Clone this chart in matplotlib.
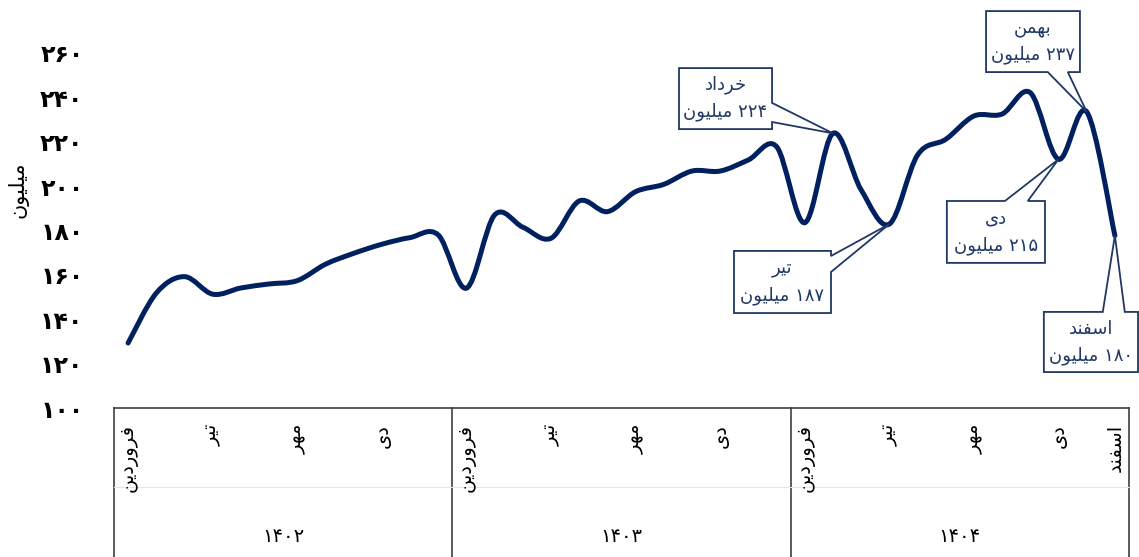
import re
import numpy as np
import matplotlib
matplotlib.use("Agg")
import matplotlib.pyplot as plt
from matplotlib.path import Path
from matplotlib.patches import PathPatch, Polygon

# monthly values (million), 1402 farvardin .. 1404 esfand
values = [129.3, 151.8, 159.2, 151.3, 154.1, 155.9, 157.4, 164.8, 169.7, 173.8, 176.8, 178.0,
          154.0, 187.0, 181.5, 176.5, 193.3, 188.5, 197.5, 200.8, 206.8, 206.8, 211.8, 217.8,
          183.5, 223.8, 198.3, 182.9, 214.0, 221.1, 231.6, 232.5, 242.1, 212.1, 233.5, 177.7]
years = ["۱۴۰۲", "۱۴۰۳", "۱۴۰۴"]
month_ticks = [0, 3, 6, 9, 12, 15, 18, 21, 24, 27, 30, 33, 35]
month_names = ["فروردین", "تیر", "مهر", "دی"] * 3 + ["اسفند"]
yticks = [100, 120, 140, 160, 180, 200, 220, 240, 260]

# callouts: point index, month, label value
call_idx = [25, 27, 33, 34, 35]
call_month = ["خرداد", "تیر", "دی", "بهمن", "اسفند"]
call_val = ["۲۲۴", "۱۸۷", "۲۱۵", "۲۳۷", "۱۸۰"]
# box (x0, x1, y0, y1) in data units, wedge side and the two wedge anchors
call_box = [(19.54, 22.84, 225.7, 253.2, "right", 228.9, 237.5),
            (21.49, 24.93, 142.8, 170.8, "right", 161.3, 168.5),
            (29.04, 32.52, 165.4, 193.3, "top", 31.10, 31.91),
            (30.43, 33.76, 251.4, 278.9, "bottom", 32.62, 33.33),
            (32.48, 35.82, 116.2, 143.3, "top", 34.57, 35.35)]

NAVY = "#002060"
TXT = "#1f3864"

# --- minimal persian shaping (matplotlib has no arabic shaping) ---
FORMS = {
    "ا": ("\uFE8D", "\uFE8E", None, None),
    "ب": ("\uFE8F", "\uFE90", "\uFE91", "\uFE92"),
    "ت": ("\uFE95", "\uFE96", "\uFE97", "\uFE98"),
    "خ": ("\uFEA5", "\uFEA6", "\uFEA7", "\uFEA8"),
    "د": ("\uFEA9", "\uFEAA", None, None),
    "ر": ("\uFEAD", "\uFEAE", None, None),
    "س": ("\uFEB1", "\uFEB2", "\uFEB3", "\uFEB4"),
    "ف": ("\uFED1", "\uFED2", "\uFED3", "\uFED4"),
    "ل": ("\uFEDD", "\uFEDE", "\uFEDF", "\uFEE0"),
    "م": ("\uFEE1", "\uFEE2", "\uFEE3", "\uFEE4"),
    "ن": ("\uFEE5", "\uFEE6", "\uFEE7", "\uFEE8"),
    "ه": ("\uFEE9", "\uFEEA", "\uFEEB", "\uFEEC"),
    "و": ("\uFEED", "\uFEEE", None, None),
    "ی": ("\uFEEF", "\uFEF0", "\uFEF3", "\uFEF4"),
}


def fa(s):
    out = []
    for k, c in enumerate(s):
        if c not in FORMS:
            out.append(c)
            continue
        prev = s[k - 1] if k > 0 else None
        nxt = s[k + 1] if k + 1 < len(s) else None
        jp = prev in FORMS and FORMS[prev][2] is not None
        jn = FORMS[c][2] is not None and nxt in FORMS
        iso, fin, ini, med = FORMS[c]
        out.append(med if jp and jn else fin if jp else ini if jn else iso)
    vis = "".join(out)[::-1]
    return re.sub(r"[\u06F0-\u06F90-9]+", lambda m: m.group(0)[::-1], vis)


def fa_num(n):
    return str(n).translate(str.maketrans("0123456789", "۰۱۲۳۴۵۶۷۸۹"))


plt.rcParams["font.family"] = ["DejaVu Sans"]

fig = plt.figure(figsize=(11.39, 5.57), dpi=100)
ax = fig.add_axes([114 / 1139, 1 - 408 / 557, 1015 / 1139, 355 / 557])

x = np.arange(len(values))
y = np.array(values)

# smoothed line (catmull-rom as bezier, like excel "smoothed line")
verts = [(x[0], y[0])]
codes = [Path.MOVETO]
for i in range(len(x) - 1):
    p0 = np.array([x[max(i - 1, 0)], y[max(i - 1, 0)]])
    p1 = np.array([x[i], y[i]])
    p2 = np.array([x[i + 1], y[i + 1]])
    p3 = np.array([x[min(i + 2, len(x) - 1)], y[min(i + 2, len(x) - 1)]])
    c1 = p1 + (p2 - p0) / 6
    c2 = p2 - (p3 - p1) / 6
    verts += [tuple(c1), tuple(c2), tuple(p2)]
    codes += [Path.CURVE4] * 3
ax.add_patch(PathPatch(Path(verts, codes), fill=False, edgecolor=NAVY, lw=3.6,
                       capstyle="round", joinstyle="round", zorder=3))

ax.set_xlim(-0.5, len(values) - 0.5)
ax.set_ylim(100, 260)
ax.set_yticks(yticks)
ax.set_yticklabels([fa_num(v) for v in yticks], fontsize=17, fontweight="bold")
ax.tick_params(axis="y", length=0, pad=22)
ax.set_xticks([])
for s in ["left", "right", "top"]:
    ax.spines[s].set_visible(False)
ax.spines["bottom"].set_color("#404040")
ax.spines["bottom"].set_linewidth(1.2)

tr = ax.get_xaxis_transform()
for b in [-0.5, 11.5, 23.5, 35.5]:
    ax.plot([b, b], [0, -0.5], color="#404040", lw=1.2, transform=tr, clip_on=False)
ax.plot([-0.5, 35.5], [-0.2225, -0.2225], color="#e6e6e6", lw=0.8, transform=tr, clip_on=False)

for i, m in zip(month_ticks, month_names):
    ax.text(i, -0.045, fa(m), rotation=90, ha="center", va="top", fontsize=14,
            transform=tr)
for k, yr in enumerate(years):
    ax.text(k * 12 + 5.5, -0.363, yr, ha="center", va="center", fontsize=14, transform=tr)

fig.text(18 / 1139, 1 - 190 / 557, fa("میلیون"), rotation=90, ha="center", va="center",
         fontsize=15)

# callouts
for idx, mon, val, box in zip(call_idx, call_month, call_val, call_box):
    x0, x1, y0, y1, side, a, b = box
    px, py = x[idx], y[idx]
    if side == "right":
        pts = [(x0, y0), (x0, y1), (x1, y1), (x1, b), (px, py), (x1, a), (x1, y0)]
    elif side == "top":
        pts = [(x0, y0), (x0, y1), (a, y1), (px, py), (b, y1), (x1, y1), (x1, y0)]
    else:
        pts = [(x0, y0), (x0, y1), (x1, y1), (x1, y0), (b, y0), (px, py), (a, y0)]
    ax.add_patch(Polygon(pts, closed=True, facecolor="white", edgecolor=TXT, lw=1.3,
                         zorder=4, clip_on=False))
    cx = (x0 + x1) / 2
    h = y1 - y0
    ax.text(cx, y1 - 0.28 * h, fa(mon), ha="center", va="center", fontsize=13,
            color=TXT, zorder=5, clip_on=False)
    ax.text(cx, y1 - 0.72 * h, fa(val + " میلیون"), ha="center", va="center",
            fontsize=13, color=TXT, zorder=5, clip_on=False)

fig.savefig("out.png", dpi=100)
